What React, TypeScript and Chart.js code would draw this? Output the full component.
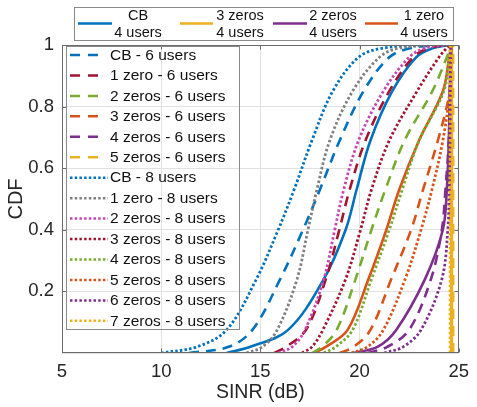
import React, { useEffect, useRef } from "react";
import { Chart, registerables } from "chart.js";

Chart.register(...registerables);

// CDF levels at which each SINR curve is sampled
const cdfLevels = [0, 0.02, 0.075, 0.24, 0.4, 0.53, 0.69, 0.85, 0.96, 0.99, 1];

// SINR (dB) reached at each CDF level — 4 users
const sinrCb4 = [13.3, 14.5, 16.4, 18.2, 19.3, 19.85, 20.55, 21.65, 22.85, 23.7, 24.5];
const sinr3Zeros4 = [24.64, 24.64, 24.64, 24.64, 24.64, 24.64, 24.64, 24.64, 24.64, 24.64, 24.64];
const sinr2Zeros4 = [19.7, 20.9, 21.85, 23.3, 24.2, 24.4, 24.5, 24.55, 24.58, 24.6, 24.62];
const sinr1Zero4 = [17.7, 18.3, 19.4, 20.45, 21.35, 22.0, 23.0, 24.2, 24.52, 24.6, 24.63];

// 6 users
const sinrCb6 = [11.4, 13.4, 14.6, 16.0, 17.15, 18.0, 19.0, 20.2, 21.5, 22.6, 24.2];
const sinr1Zero6 = [15.7, 16.3, 17.3, 18.3, 18.98, 19.5, 20.3, 21.5, 22.7, 23.5, 24.5];
const sinr2Zeros6 = [17.6, 18.1, 18.85, 19.8, 20.6, 21.3, 22.27, 23.67, 24.4, 24.55, 24.62];
const sinr3Zeros6 = [19.0, 19.7, 20.55, 21.6, 22.6, 23.2, 23.95, 24.55, 24.6, 24.62, 24.65];
const sinr4Zeros6 = [20.4, 21.4, 22.5, 23.6, 24.15, 24.33, 24.5, 24.55, 24.58, 24.6, 24.62];
const sinr5Zeros6 = [24.7, 24.7, 24.7, 24.7, 24.7, 24.7, 24.7, 24.7, 24.7, 24.7, 24.7];

// 8 users
const sinrCb8 = [10.0, 11.8, 13.3, 14.8, 15.9, 16.7, 17.6, 18.65, 19.95, 21.2, 23.8];
const sinr1Zero8 = [14.3, 15.1, 15.85, 16.85, 17.4, 17.85, 18.5, 19.65, 21.0, 22.0, 24.2];
const sinr2Zeros8 = [15.9, 16.6, 17.25, 18.2, 18.75, 19.2, 19.95, 21.2, 22.5, 23.3, 24.4];
const sinr3Zeros8 = [17.1, 17.6, 18.15, 19.3, 20.05, 20.6, 21.5, 22.9, 24.0, 24.4, 24.6];
const sinr4Zeros8 = [18.2, 18.8, 19.65, 20.6, 21.5, 22.15, 23.0, 24.25, 24.52, 24.59, 24.63];
const sinr5Zeros8 = [19.6, 20.4, 21.2, 22.3, 23.1, 23.65, 24.2, 24.55, 24.6, 24.62, 24.65];
const sinr6Zeros8 = [21.25, 22.2, 23.1, 24.15, 24.45, 24.52, 24.56, 24.58, 24.6, 24.61, 24.63];
const sinr7Zeros8 = [24.58, 24.58, 24.58, 24.58, 24.58, 24.58, 24.58, 24.58, 24.58, 24.58, 24.58];

const xTickValues = [5, 10, 15, 20, 25];
const yTickValues = [0.2, 0.4, 0.6, 0.8, 1];

type LineKind = "solid" | "dashed" | "dotted";
interface Curve {
  name: string;
  users: string;
  sinr: number[];
  color: string;
  kind: LineKind;
}

const BLUE = "#0072BD";
const ORANGE = "#D95319";
const YELLOW = "#EDB120";
const PURPLE = "#7E2F8E";
const GREEN = "#77AC30";
const DARKRED = "#A2142F";
const GRAY = "#808080";
const MAGENTA = "#C546B4";

const curves4: Curve[] = [
  { name: "CB", users: "4 users", sinr: sinrCb4, color: BLUE, kind: "solid" },
  { name: "3 zeros", users: "4 users", sinr: sinr3Zeros4, color: YELLOW, kind: "solid" },
  { name: "2 zeros", users: "4 users", sinr: sinr2Zeros4, color: PURPLE, kind: "solid" },
  { name: "1 zero", users: "4 users", sinr: sinr1Zero4, color: ORANGE, kind: "solid" },
];

const curves68: Curve[] = [
  { name: "CB", users: "6 users", sinr: sinrCb6, color: BLUE, kind: "dashed" },
  { name: "1 zero", users: "6 users", sinr: sinr1Zero6, color: DARKRED, kind: "dashed" },
  { name: "2 zeros", users: "6 users", sinr: sinr2Zeros6, color: GREEN, kind: "dashed" },
  { name: "3 zeros", users: "6 users", sinr: sinr3Zeros6, color: ORANGE, kind: "dashed" },
  { name: "4 zeros", users: "6 users", sinr: sinr4Zeros6, color: PURPLE, kind: "dashed" },
  { name: "5 zeros", users: "6 users", sinr: sinr5Zeros6, color: YELLOW, kind: "dashed" },
  { name: "CB", users: "8 users", sinr: sinrCb8, color: BLUE, kind: "dotted" },
  { name: "1 zero", users: "8 users", sinr: sinr1Zero8, color: GRAY, kind: "dotted" },
  { name: "2 zeros", users: "8 users", sinr: sinr2Zeros8, color: MAGENTA, kind: "dotted" },
  { name: "3 zeros", users: "8 users", sinr: sinr3Zeros8, color: DARKRED, kind: "dotted" },
  { name: "4 zeros", users: "8 users", sinr: sinr4Zeros8, color: GREEN, kind: "dotted" },
  { name: "5 zeros", users: "8 users", sinr: sinr5Zeros8, color: ORANGE, kind: "dotted" },
  { name: "6 zeros", users: "8 users", sinr: sinr6Zeros8, color: PURPLE, kind: "dotted" },
  { name: "7 zeros", users: "8 users", sinr: sinr7Zeros8, color: YELLOW, kind: "dotted" },
];

const allCurves = [...curves4, ...curves68];

const FONT = "'Liberation Sans', Arial, Helvetica, sans-serif";
const TEXT = "#262626";
const AXIS = "#6b6b6b";

function dashFor(kind: LineKind): number[] {
  if (kind === "dashed") return [10, 7];
  if (kind === "dotted") return [2.5, 2.2];
  return [];
}

function isVertical(c: Curve) {
  return c.sinr.every((v) => v === c.sinr[0]);
}

function drawSample(ctx: CanvasRenderingContext2D, x1: number, x2: number, y: number, c: Curve) {
  ctx.save();
  ctx.strokeStyle = c.color;
  ctx.lineWidth = 2.5;
  ctx.lineCap = "butt";
  ctx.setLineDash(c.kind === "dashed" ? [10, 8] : c.kind === "dotted" ? [2.5, 2.2] : []);
  ctx.beginPath();
  ctx.moveTo(x1, y);
  ctx.lineTo(x2, y);
  ctx.stroke();
  ctx.restore();
}

const framePlugin = {
  id: "frameAndLegends",
  afterDraw(chart: any) {
    const { ctx, chartArea: a, scales } = chart;
    const xs = scales.x;
    const ys = scales.y;
    ctx.save();

    // axes box
    const l = Math.round(a.left) + 0.5;
    const t = Math.round(a.top) + 0.5;
    const r = Math.round(a.right) - 0.5;
    const b = Math.round(a.bottom) - 0.5;
    ctx.strokeStyle = AXIS;
    ctx.lineWidth = 1;
    ctx.strokeRect(l, t, r - l, b - t);

    // inward tick marks on all four sides
    const tl = 4;
    ctx.beginPath();
    xTickValues.forEach((v) => {
      const px = Math.round(xs.getPixelForValue(v)) + 0.5;
      ctx.moveTo(px, b);
      ctx.lineTo(px, b - tl);
      ctx.moveTo(px, t);
      ctx.lineTo(px, t + tl);
    });
    yTickValues.forEach((v) => {
      const py = Math.round(ys.getPixelForValue(v)) + 0.5;
      ctx.moveTo(l, py);
      ctx.lineTo(l + tl, py);
      ctx.moveTo(r, py);
      ctx.lineTo(r - tl, py);
    });
    ctx.stroke();

    // top legend: 4-user curves, two-line labels
    ctx.strokeStyle = "#8a8a8a";
    ctx.strokeRect(74.5, 7.5, 379, 33);
    const samples = [
      [78, 112, 138],
      [180, 213, 240],
      [273, 307, 333],
      [365, 398, 424],
    ];
    ctx.font = `14.5px ${FONT}`;
    ctx.fillStyle = "#111";
    ctx.textAlign = "center";
    ctx.textBaseline = "middle";
    curves4.forEach((c, i) => {
      const [x1, x2, tx] = samples[i];
      drawSample(ctx, x1, x2, 23.5, c);
      ctx.fillText(c.name, tx, 15.5);
      ctx.fillText(c.users, tx, 33);
    });

    // inner legend: 6- and 8-user curves
    ctx.strokeStyle = "#8a8a8a";
    ctx.strokeRect(66.5, 46.5, 173, 283);
    ctx.font = `15.5px ${FONT}`;
    ctx.textAlign = "left";
    curves68.forEach((c, i) => {
      const y = 55 + i * 20.45;
      drawSample(ctx, 70, c.kind === "dashed" ? 106 : 108, y, c);
      ctx.fillStyle = "#111";
      ctx.fillText(`${c.name} - ${c.users}`, 110, y + 0.5);
    });

    ctx.restore();
  },
};

export default function App() {
  const canvasRef = useRef<HTMLCanvasElement | null>(null);

  useEffect(() => {
    if (!canvasRef.current) return;
    const n = allCurves.length;
    const datasets = allCurves.map((c, i) => {
      const vertical = isVertical(c);
      return {
        label: `${c.name} - ${c.users}`,
        data: c.sinr.map((x, k) => ({ x, y: cdfLevels[k] })),
        borderColor: c.color,
        backgroundColor: c.color,
        borderWidth: vertical ? 3.4 : c.kind === "dotted" ? 2.8 : 2.6,
        borderDash: dashFor(c.kind),
        borderCapStyle: "butt" as const,
        pointRadius: 0,
        fill: false,
        tension: vertical ? 0 : 0.35,
        cubicInterpolationMode: "default" as const,
        order: n - i,
      };
    });

    const chart = new Chart(canvasRef.current, {
      type: "line",
      data: { datasets },
      options: {
        responsive: false,
        animation: false,
        devicePixelRatio: 1,
        layout: { padding: { top: 45, right: 10, left: 0, bottom: 0 } },
        plugins: {
          legend: { display: false },
          tooltip: { enabled: false },
        },
        scales: {
          x: {
            type: "linear",
            min: 5,
            max: 25,
            afterBuildTicks: (s: any) => {
              s.ticks = xTickValues.map((v) => ({ value: v }));
            },
            ticks: {
              font: { family: FONT, size: 18.5 },
              color: TEXT,
              padding: 8,
              maxRotation: 0,
              autoSkip: false,
            },
            grid: { color: "#e1e1e1", drawTicks: false },
            border: { display: false },
            title: {
              display: true,
              text: "SINR (dB)",
              font: { family: FONT, size: 19.5 },
              color: TEXT,
              padding: { top: 0, bottom: 3 },
            },
            afterFit: (s: any) => {
              s.height = 54;
            },
          },
          y: {
            type: "linear",
            min: 0,
            max: 1,
            afterBuildTicks: (s: any) => {
              s.ticks = [0, ...yTickValues].map((v) => ({ value: v }));
            },
            ticks: {
              font: { family: FONT, size: 18.5 },
              color: TEXT,
              padding: 8,
              callback: (v: any) => (v === 0 ? "" : String(Math.round(Number(v) * 10) / 10)),
            },
            grid: { color: "#e1e1e1", drawTicks: false },
            border: { display: false },
            title: {
              display: true,
              text: "CDF",
              font: { family: FONT, size: 20 },
              color: TEXT,
              padding: { top: 4, bottom: 0 },
            },
            afterFit: (s: any) => {
              s.width = 62;
            },
          },
        },
      },
      plugins: [framePlugin],
    });

    return () => chart.destroy();
  }, []);

  return (
    <div style={{ position: "absolute", left: 0, top: 0, width: 477, height: 407, background: "#fff" }}>
      <canvas ref={canvasRef} width={477} height={407} style={{ display: "block" }} />
    </div>
  );
}
